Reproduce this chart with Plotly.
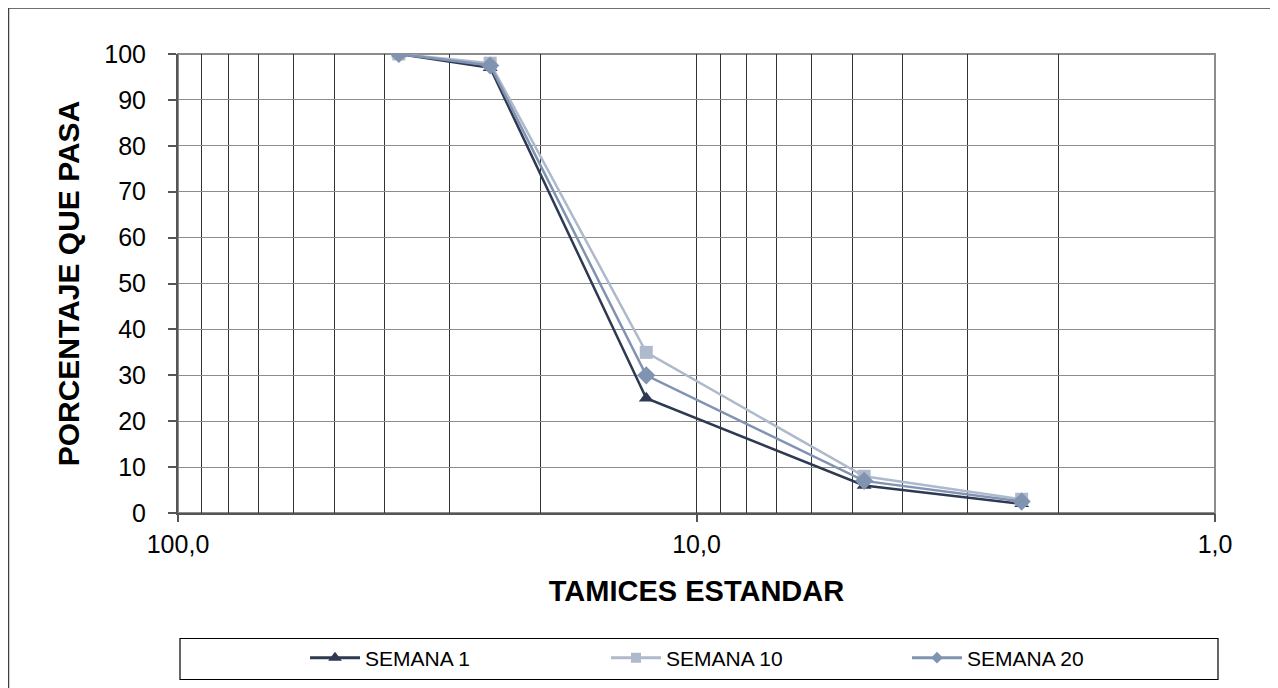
import plotly.graph_objects as go

# Data
tamices = [37.5, 25.0, 12.5, 4.75, 2.36]
semana_1 = [100, 97, 25, 6, 2]
semana_10 = [100, 98, 35, 8, 3]
semana_20 = [100, 97.5, 30, 7, 2.5]
series_names = ["SEMANA 1", "SEMANA 10", "SEMANA 20"]
grid_vals = [100, 90, 80, 70, 60, 50, 40, 30, 20, 10, 9, 8, 7, 6, 5, 4, 3, 2, 1]
major_vals = [100, 10, 1]
major_text = ["100,0", "10,0", "1,0"]

FONT = "Liberation Sans, Arial, sans-serif"
W, H = 1278, 688
OFF = 8  # page body margin
L = 178 - OFF
T = 53 - 7
R = W - (1215 - OFF)
B = H - (512 - 7)
pw, ph = W - L - R, H - T - B

def px_x(x):
    return (x - OFF - L) / pw

def px_y(y):
    return (H - B - (y - 7)) / ph

fig = go.Figure()

colors = ["#2E3A52", "#AEB9CC", "#8094B2"]
symbols = ["triangle-up", "square", "diamond"]
sizes = [13, 13, 14]
legend_sizes = [12, 10, 9]
for name, vals, c, s, sz, lsz in zip(series_names, [semana_1, semana_10, semana_20],
                                     colors, symbols, sizes, legend_sizes):
    fig.add_trace(go.Scatter(
        x=tamices, y=vals, name=name, mode="lines+markers",
        line=dict(color=c, width=2.5),
        marker=dict(symbol=s, size=sz, color=c),
        showlegend=False,
    ))
    # legend-only entry with smaller marker
    fig.add_trace(go.Scatter(
        x=[None], y=[None], name=name, mode="lines+markers",
        line=dict(color=c, width=3),
        marker=dict(symbol=s, size=lsz, color=c),
        showlegend=True, hoverinfo="skip",
    ))

fig.add_trace(go.Scatter(x=[10], y=[0], xaxis="x2", showlegend=False,
                         mode="markers", marker=dict(opacity=0), hoverinfo="skip"))

fig.update_layout(
    width=W, height=H,
    margin=dict(l=L, r=R, t=T, b=B),
    paper_bgcolor="white", plot_bgcolor="white",
    font=dict(family=FONT, color="black"),
    showlegend=True,
    legend=dict(orientation="h", xref="container", yref="container",
                x=(305 - OFF) / W, xanchor="left", y=1 - (657 - 7) / H, yanchor="middle",
                font=dict(size=21, family=FONT), entrywidth=236, entrywidthmode="pixels",
                itemwidth=50, bgcolor="rgba(0,0,0,0)", borderwidth=0),
    xaxis=dict(type="log", range=[2, 0], tickvals=grid_vals, showticklabels=False,
               ticks="", showgrid=True, gridcolor="#333333", gridwidth=1,
               showline=True, linecolor="#555555", linewidth=2, zeroline=False),
    xaxis2=dict(type="log", range=[2, 0], overlaying="x", side="bottom",
                tickvals=major_vals, ticktext=major_text, ticks="outside",
                ticklen=8, tickcolor="#555555", tickwidth=1.5, showgrid=False,
                showline=False, tickfont=dict(size=25, family=FONT),
                ticklabelstandoff=1,
                title=dict(text="<b>TAMICES ESTANDAR</b>", font=dict(size=29, family=FONT), standoff=23)),
    yaxis=dict(range=[0, 100], dtick=10, ticks="outside", ticklen=8,
               tickcolor="#555555", tickwidth=1.5, showgrid=True, gridcolor="#8C8C8C",
               gridwidth=1, showline=True, linecolor="#555555", linewidth=2, zeroline=False,
               tickfont=dict(size=25, family=FONT), ticklabelstandoff=17,
               title=dict(text="<b>PORCENTAJE QUE PASA</b>", font=dict(size=30, family=FONT), standoff=16)),
    shapes=[
        dict(type="rect", xref="paper", yref="paper", x0=0, x1=1, y0=0, y1=1,
             line=dict(color="#8C8C8C", width=2), layer="below"),
        dict(type="rect", xref="paper", yref="paper", x0=px_x(8.5), x1=px_x(1300),
             y0=px_y(720), y1=px_y(7), line=dict(color="#404040", width=1.5)),
        dict(type="rect", xref="paper", yref="paper", x0=px_x(180), x1=px_x(1218),
             y0=px_y(678.5), y1=px_y(637.5), line=dict(color="black", width=1.2)),
    ],
)

fig.write_html("out.html")
